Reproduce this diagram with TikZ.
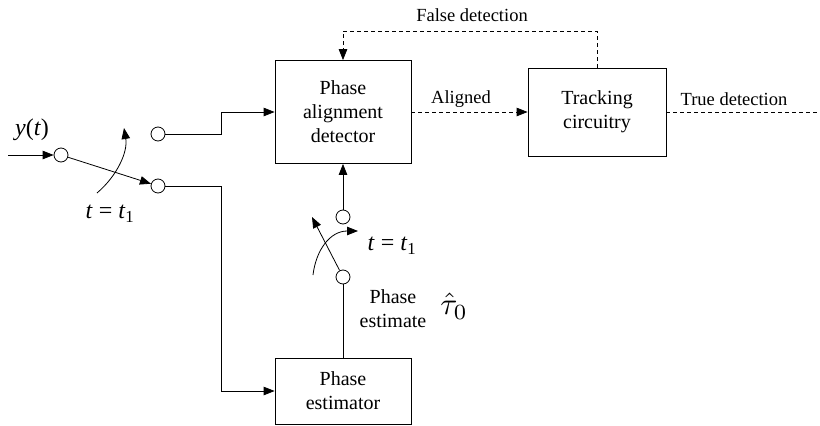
\documentclass[tikz,border=0pt]{standalone}
\usepackage{fontspec}
\setmainfont{Liberation Serif}
\usetikzlibrary{arrows.meta,calc}
\begin{document}
\begin{tikzpicture}[x=1pt,y=-1pt,
  line width=0.8pt,
  >={Triangle[length=11pt,width=8.5pt]},
  block/.style={draw,align=center,font=\fontsize{20}{24}\selectfont,inner sep=0pt},
  pin/.style={draw,circle,minimum size=14pt,inner sep=0pt},
  lbl/.style={font=\fontsize{18.5}{22}\selectfont,inner sep=0pt},
  mlbl/.style={font=\fontsize{24}{28}\selectfont,inner sep=0pt},
  dsh/.style={dash pattern=on 4pt off 3pt}]
\useasboundingbox (0,0) rectangle (820,426);

% blocks
\node[block,minimum width=136pt,minimum height=103pt] (pad) at (343,112) {Phase\\alignment\\detector};
\node[block,minimum width=138pt,minimum height=88pt] (trk) at (597,112) {Tracking\\circuitry};
\node[block,minimum width=136pt,minimum height=66pt] (pe) at (343,391) {Phase\\estimator};

% switch contacts
\node[pin] (cin) at (61,155) {};
\node[pin] (cup) at (158,134) {};
\node[pin] (clo) at (158,186) {};
\node[pin] (cm1) at (343,217) {};
\node[pin] (cm2) at (343,277) {};

% free ends
\coordinate (src) at (8,155);
\coordinate (out) at (820,112);
\coordinate (arm) at (312,217);

% input switch
\draw[->] (src) -- (cin);
\draw[->] (cin) -- (clo);
\draw[->] (97,193) .. controls (117,176) and (128,152) .. (124,128);

% routes to the two blocks
\draw[->] (cup.east) -| (221,112) -- (pad.west);
\draw[->] (clo.east) -| (221,391) -- (pe.west);

% estimate switch
\draw (pe.north) -- (cm2.south);
\draw[->] (cm1.north) -- (pad.south);
\draw[->] (cm2) -- (arm);
\draw[->] (313,275) .. controls (316,250) and (330,231) .. (358,231);

% dashed signal paths
\draw[dsh,->] (pad.east) -- (trk.west);
\draw[dsh] (trk.east) -- (out);
\draw[dsh,->] (trk.north) |- (343,31) -- (pad.north);

% labels
\node[lbl] at (472,15) {False detection};
\node[lbl] at (461,99) {Aligned};
\node[lbl] at (734,99) {True detection};
\node[mlbl] at (32,130) {\textit{y}(\textit{t})};
\node[mlbl] at (110,214) {\textit{t} = \textit{t}\textsubscript{1}};
\node[mlbl] at (392,246) {\textit{t} = \textit{t}\textsubscript{1}};
\node[block,draw=none] at (393,309) {Phase\\estimate};
\node[inner sep=0pt] at (454,306) {\scalebox{3.1}{$\hat{\tau}_0$}};
\end{tikzpicture}
\end{document}
